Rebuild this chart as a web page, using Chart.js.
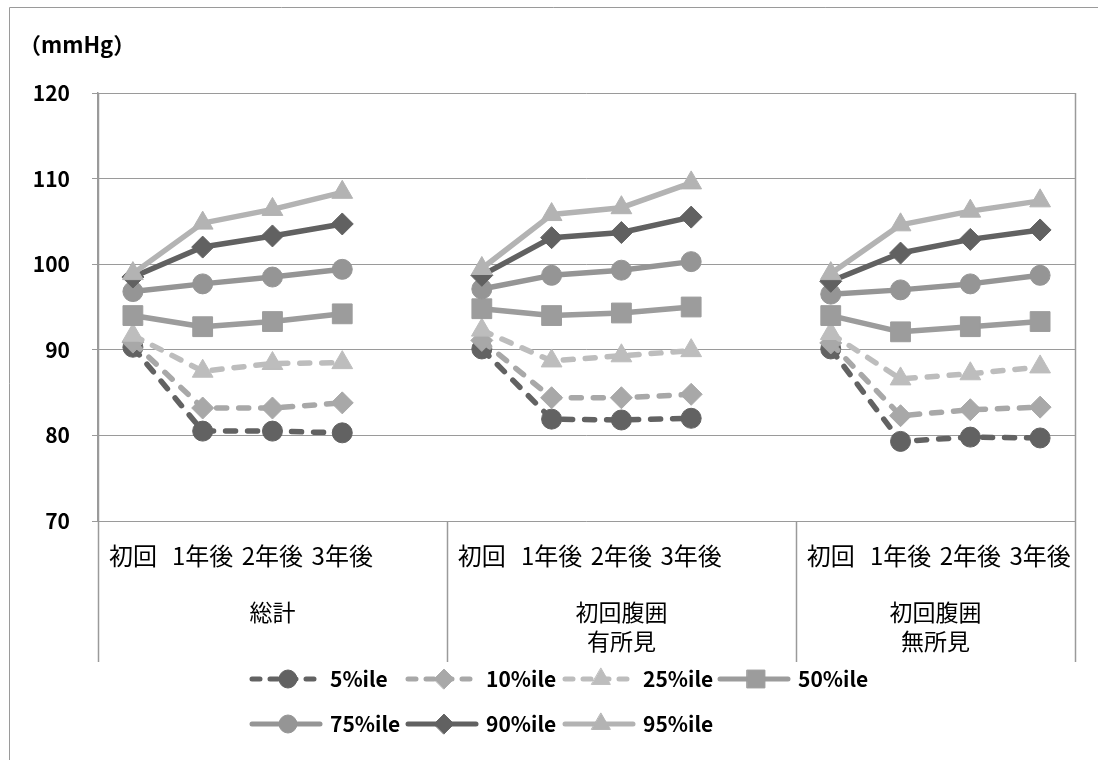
<!DOCTYPE html>
<html lang="ja">
<head>
<meta charset="utf-8">
<title>血圧パーセンタイル推移</title>
<script src="https://cdn.jsdelivr.net/npm/chart.js@4"></script>
<style>
  html, body { margin: 0; padding: 0; background: #fff; }
  #wrap { width: 1098px; height: 760px; position: relative; }
</style>
</head>
<body>
<div id="wrap"><canvas id="bp"></canvas></div>
<script>
// 時点 (each group), groups, and percentile values per group in order 総計 / 有所見 / 無所見
const timepoints = ["初回", "1年後", "2年後", "3年後"];
const groups = [["総計"], ["初回腹囲", "有所見"], ["初回腹囲", "無所見"]];
const yTicks = [70, 80, 90, 100, 110, 120];

const p5  = [90.3, 80.5, 80.5, 80.3,   90.1, 81.9, 81.8, 82.0,   90.1, 79.3, 79.8, 79.7];
const p10 = [90.9, 83.2, 83.2, 83.8,   91.1, 84.4, 84.4, 84.8,   90.8, 82.3, 83.0, 83.3];
const p25 = [91.7, 87.5, 88.4, 88.5,   92.3, 88.7, 89.3, 89.9,   91.9, 86.6, 87.2, 88.0];
const p50 = [94.0, 92.7, 93.3, 94.2,   94.8, 94.0, 94.3, 95.0,   94.0, 92.1, 92.7, 93.3];
const p75 = [96.8, 97.7, 98.5, 99.4,   97.1, 98.7, 99.3, 100.3,  96.5, 97.0, 97.7, 98.7];
const p90 = [98.5, 102.0, 103.3, 104.7, 98.7, 103.1, 103.7, 105.5, 98.0, 101.3, 102.9, 104.0];
const p95 = [98.9, 104.8, 106.4, 108.4, 99.5, 105.8, 106.6, 109.5, 98.9, 104.6, 106.2, 107.4];

const series = [
  { name: "5%ile",  data: p5,  color: "#626262", style: "circle",   r: 10, dash: true },
  { name: "10%ile", data: p10, color: "#a8a8a8", style: "rectRot",  r: 11, dash: true },
  { name: "25%ile", data: p25, color: "#bdbdbd", style: "triangle", r: 12, dash: true },
  { name: "50%ile", data: p50, color: "#9c9c9c", style: "rect",     r: 14, dash: false },
  { name: "75%ile", data: p75, color: "#959595", style: "circle",   r: 10, dash: false },
  { name: "90%ile", data: p90, color: "#616161", style: "rectRot",  r: 11, dash: false },
  { name: "95%ile", data: p95, color: "#b3b3b3", style: "triangle", r: 12, dash: false }
];

// one blank category between groups so the lines break
const labels = [];
groups.forEach((g, gi) => {
  timepoints.forEach(t => labels.push(t));
  if (gi < groups.length - 1) labels.push("");
});

function spread(values) {
  const out = [];
  groups.forEach((g, gi) => {
    for (let i = 0; i < timepoints.length; i++) out.push(values[gi * timepoints.length + i]);
    if (gi < groups.length - 1) out.push(null);
  });
  return out;
}

const DASH = [10, 12];
const FONT = "'Noto Sans CJK JP', 'Noto Sans', sans-serif";
const GRID = "#9a9a9a";

const datasets = series.map((s, i) => ({
  label: s.name,
  data: spread(s.data),
  borderColor: s.color,
  backgroundColor: s.color,
  borderWidth: 5.5,
  borderDash: s.dash ? DASH : [],
  borderCapStyle: "round",
  borderJoinStyle: "round",
  pointStyle: s.style,
  pointRadius: s.r,
  pointHoverRadius: s.r,
  pointBorderWidth: 1,
  pointBackgroundColor: s.color,
  pointBorderColor: s.color,
  tension: 0,
  spanGaps: false,
  order: series.length - i
}));

const decor = {
  id: "decor",
  afterDraw(chart) {
    const ctx = chart.ctx;
    const x = chart.scales.x;
    const area = chart.chartArea;
    const step = x.getPixelForValue(1) - x.getPixelForValue(0);
    const axisBottom = 662;

    ctx.save();
    // outer frame
    ctx.strokeStyle = GRID;
    ctx.lineWidth = 1;
    ctx.beginPath();
    ctx.moveTo(9.5, 760);
    ctx.lineTo(9.5, 7.5);
    ctx.lineTo(1098, 7.5);
    ctx.stroke();

    // unit
    ctx.fillStyle = "#000";
    ctx.font = "bold 22px " + FONT;
    ctx.textAlign = "left";
    ctx.textBaseline = "middle";
    ctx.fillText("（mmHg）", 19, 45);

    // group boundaries of the category axis
    const bounds = [area.left];
    let idx = 0;
    groups.forEach((g, gi) => {
      idx += timepoints.length + (gi < groups.length - 1 ? 1 : 0);
      bounds.push(gi < groups.length - 1 ? x.getPixelForValue(idx - 1) + step / 2 : area.right);
    });
    ctx.strokeStyle = GRID;
    ctx.lineWidth = 1.5;
    bounds.forEach(b => {
      const bx = Math.round(b) + 0.5;
      ctx.beginPath();
      ctx.moveTo(bx, b === area.left || b === area.right ? area.top : area.bottom);
      ctx.lineTo(bx, axisBottom);
      ctx.stroke();
    });

    // category labels
    ctx.font = "24px " + FONT;
    ctx.textAlign = "center";
    labels.forEach((l, i) => {
      if (l) ctx.fillText(l, x.getPixelForValue(i), 556);
    });
    // group labels
    ctx.font = "23px " + FONT;
    groups.forEach((g, gi) => {
      const cx = (bounds[gi] + bounds[gi + 1]) / 2;
      g.forEach((line, li) => ctx.fillText(line, cx, 612 + li * 29));
    });

    // legend: line with marker, then name
    const cols = [252, 408, 565, 720];
    series.forEach((s, i) => {
      const row = i < 4 ? 0 : 1;
      const col = i < 4 ? i : i - 4;
      const lx = cols[col];
      const ly = row === 0 ? 679 : 724;
      ctx.strokeStyle = s.color;
      ctx.fillStyle = s.color;
      ctx.lineWidth = 5;
      ctx.lineCap = "round";
      ctx.setLineDash(s.dash ? [8, 10] : []);
      ctx.beginPath();
      ctx.moveTo(lx, ly);
      ctx.lineTo(lx + 68, ly);
      ctx.stroke();
      ctx.setLineDash([]);
      ctx.lineWidth = 1;
      Chart.helpers.drawPoint(ctx, { pointStyle: s.style, radius: s.r * 0.9, rotation: 0, borderWidth: 1 }, lx + 36, ly);
      ctx.fillStyle = "#000";
      ctx.font = "bold 21px " + FONT;
      ctx.textAlign = "left";
      ctx.fillText(s.name, lx + 78, ly);
    });
    ctx.restore();
  }
};

new Chart(document.getElementById("bp"), {
  type: "line",
  data: { labels: labels, datasets: datasets },
  options: {
    responsive: true,
    maintainAspectRatio: false,
    animation: false,
    events: [],
    layout: { padding: { left: 0, top: 93, right: 23, bottom: 239 } },
    plugins: { legend: { display: false }, tooltip: { enabled: false } },
    scales: {
      x: {
        type: "category",
        offset: true,
        display: false
      },
      y: {
        min: yTicks[0],
        max: yTicks[yTicks.length - 1],
        afterFit(scale) { scale.width = 98; },
        afterBuildTicks(scale) { scale.ticks = yTicks.map(v => ({ value: v })); },
        ticks: {
          padding: 22,
          color: "#000",
          font: { family: FONT, size: 21, weight: "bold" }
        },
        grid: { color: GRID, lineWidth: 1, tickLength: 6, drawTicks: true },
        border: { display: true, color: GRID, width: 1.5 }
      }
    }
  },
  plugins: [decor]
});
</script>
</body>
</html>
